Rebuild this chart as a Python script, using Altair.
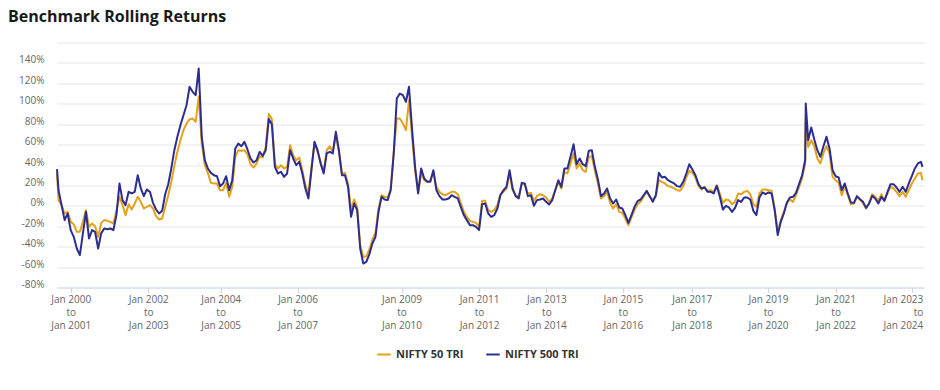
import altair as alt
import pandas as pd

TITLE = "Benchmark Rolling Returns"
SERIES = ["NIFTY 50 TRI", "NIFTY 500 TRI"]
COLORS = ["#E3A21A", "#2C2E8F"]

# Month index (months since Jan 2000) of each reading; regular monthly samples from -4 to 279
month_start, month_end = -4, 279

nifty500 = [
    15.3, 0.7, -14, -7.5,
    -23.8, -30.4, -41.8, -48.3, -27, -5.9, -32, -23.8, -25.5, -41.8,
    -27, -22.2, -22.9, -22.2, -23.8, -9.1, 21.9, 5.6, 0.7, 13.7,
    12.1, 13.7, 30, 17, 9.5, 16, 13.7, 2.9, -3.6, -7.5,
    -4.9, 11.4, 21.2, 36.6, 54.5, 67.6, 79, 88.8, 98.6, 116.6,
    111.7, 108.4, 134.5, 67.6, 44.7, 36.6, 32.3, 30, 29, 19.3,
    21.9, 29, 15.3, 25.1, 56.2, 61, 58.4, 62.7, 55.2, 46.4,
    42.4, 44.7, 52.9, 49, 54.5, 85, 80, 38.2, 31.7, 33.3,
    28.4, 31.7, 54.5, 46.4, 39.8, 43.1, 31.7, 17, 7.2, 34.9,
    62.7, 54.5, 41.5, 31.7, 51.3, 52.9, 51.3, 72.5, 54.5, 30,
    30, 18.6, -10.8, 2.3, -4.2, -41.8, -56.5, -54.9, -47.3, -36.9,
    -30.4, -5.9, 8.8, 6.2, 5.6, 15.3, 51.3, 105.1, 110, 108.4,
    101.9, 116.6, 75.7, 38.2, 12.1, 36.6, 26.8, 23.5, 23.5, 34.9,
    15.3, 9.5, 6.2, 6.2, 7.2, 10.4, 8.8, 7.2, -1, -9.1,
    -14, -18.9, -18.9, -20.6, -23.8, 1.6, 2.3, -7.5, -10.8, -9.1,
    -2.6, 10.4, 15.3, 18.6, 34.9, 17, 9.5, 7.2, 22.5, 21.9,
    9.5, 10.4, 0, 5.6, 6.2, 7.2, 3.9, 1.3, 5.6, 15.3,
    25.1, 18.6, 36.6, 36.6, 48, 60.4, 40.8, 46.4, 40.8, 38.9,
    53.9, 54.5, 38.2, 25.8, 9.5, 12.1, 17, 7.2, 2.3, 6.2,
    -1.6, -2.6, -9.1, -16.7, -9.1, -1, 4.6, 6.2, 10.4, 14.7,
    9.5, 3.9, 10.4, 32.3, 27.8, 28.4, 25.1, 23.5, 21.9, 19.3,
    18.6, 23.5, 31.7, 40.8, 35.6, 30, 21.2, 17, 18, 13.7,
    13.7, 12.1, 19.6, 8.8, -3.6, 0, -1.6, -5.9, -2, 5.6,
    3.9, 8.2, 8.2, 6.2, -4.9, -9.1, 8.2, 13.1, 11.4, 13.1,
    12.1, -4.2, -28.7, -15.7, -7.5, 3.3, 8.2, 8.8, 12.7, 21.2,
    30, 44.7, 64.3, 76.7, 65, 54.5, 48, 58.4, 67.6, 56.2,
    34.9, 29, 27.8, 15.3, 21.9, 12.1, 3.3, 2.9, 9.5, 6.5,
    3.9, -2, 2.3, 9.8, 7.2, 2.3, 8.8, 4.9, 13.4, 21.2,
    21.2, 18, 13.7, 18.6, 13.7, 21.9, 29, 36.6, 41.5, 43.1,
]

nifty50 = [
    5.6, 0.7, -7.5, -5.9,
    -15.7, -18, -25.5, -25.5, -15.7, -4.2, -20.6, -17.3, -20, -30.4,
    -16.7, -14, -14.7, -15.7, -17.3, -4.9, 8.8, 0.7, -9.1, 1.6,
    -3.6, 2.3, 8.8, 3.9, -2.6, -1, 0.7, -2.6, -10.1, -13.4,
    -12.4, -1, 10.1, 23.5, 38.9, 52.9, 64.3, 74.1, 80.6, 84.6,
    85.5, 82.3, 106.8, 61, 39.8, 32.3, 22.5, 21.9, 21.9, 15.3,
    15.3, 22.5, 8.8, 18.6, 48, 54.5, 53.9, 54.5, 50.3, 40.8,
    37.5, 41.5, 48.6, 47.3, 57.8, 90, 85, 40.8, 36.6, 39.8,
    36.6, 38.2, 59.4, 49.6, 44.7, 47.3, 34.9, 20.2, 12.1, 38.2,
    61, 52.9, 43.1, 33.3, 54.5, 58.4, 52.9, 69.2, 52.9, 31.7,
    32.3, 21.9, -4.2, 6.2, -1, -38.5, -50, -49.3, -42.8, -33,
    -26.4, -2.6, 10.4, 8.8, 8.2, 17, 52.9, 85.5, 85.5, 80.6,
    74.1, 103.5, 67.6, 34.9, 12.7, 31.7, 25.1, 23.5, 25.1, 33.3,
    18.6, 13.7, 11.4, 10.4, 12.1, 13.7, 13.7, 11.4, 2.9, -5.9,
    -10.8, -14.7, -15.7, -16.7, -20.6, 4.9, 4.9, -4.2, -5.9, -4.2,
    0.7, 11.4, 13.7, 17, 31.7, 15.3, 10.4, 8.8, 21.2, 21.2,
    12.1, 12.7, 4.9, 9.5, 11.4, 10.4, 8.2, 3.9, 7.2, 15.3,
    23.5, 17, 33.3, 31.7, 41.5, 51.3, 36.6, 41.5, 34.9, 33.3,
    48, 48.6, 34.3, 21.9, 7.2, 9.5, 13.7, 2.9, -2.6, 1.6,
    -5.9, -6.9, -12.4, -18.9, -11.4, -4.2, 1.6, 3.9, 8.8, 13.7,
    8.8, 5.6, 9.5, 25.1, 23.5, 21.9, 19.3, 18.6, 17, 15.3,
    14.7, 19.3, 27.8, 34.3, 32.3, 27.8, 19.3, 16, 18.6, 14.7,
    15.3, 13.7, 20.2, 12.1, 2.9, 6.2, 5.6, 1.6, 3.9, 12.1,
    11.4, 13.7, 14.7, 11.4, 1.6, -1, 12.1, 16, 16, 15.3,
    14.7, -2.6, -25.5, -14, -5.9, 2.3, 6.2, 3.9, 10.4, 18.6,
    26.8, 41.5, 57.8, 64.3, 58.4, 46.4, 41.5, 51.9, 58.4, 51.3,
    28.4, 25.1, 22.5, 10.4, 18.6, 10.4, 1.6, 2.3, 8.8, 6.2,
    2.3, -2.6, 2.9, 11.4, 8.8, 4.9, 11.4, 5.6, 12.1, 18.6,
    17, 13.7, 9.5, 13.7, 8.8, 15.3, 21.9, 26.8, 31.7, 32.3,
]

# Extra off-grid readings: series start, the 2020 spike, series end
extra_months = [-4.5, 241.2, 279.5]
extra_nifty500 = [36, 100.2, 38.2]
extra_nifty50 = [32, 85, 25.1]

# X-axis ticks (month index) and their labels
tick_pos = [0, 25.45, 49.2, 74.45, 108.56, 134.0, 156.1, 181.2, 203.8, 228.8, 251.0, 276.0]
tick_from = ["Jan 2000", "Jan 2002", "Jan 2004", "Jan 2006", "Jan 2009", "Jan 2011",
             "Jan 2013", "Jan 2015", "Jan 2017", "Jan 2019", "Jan 2021", "Jan 2023"]
tick_to = ["Jan 2001", "Jan 2003", "Jan 2005", "Jan 2007", "Jan 2010", "Jan 2012",
           "Jan 2014", "Jan 2016", "Jan 2018", "Jan 2020", "Jan 2022", "Jan 2024"]

y_ticks = [-80, -60, -40, -20, 0, 20, 40, 60, 80, 100, 120, 140, 160]

months = list(range(month_start, month_end + 1))
rows = []
for name, vals, extra in [(SERIES[0], nifty50, extra_nifty50), (SERIES[1], nifty500, extra_nifty500)]:
    pts = list(zip(months, vals)) + list(zip(extra_months, extra))
    pts.sort(key=lambda p: p[0])
    for m, v in pts:
        rows.append({"month": m, "value": v, "series": name})
df = pd.DataFrame(rows)

expr = "''"
for p, a, b in reversed(list(zip(tick_pos, tick_from, tick_to))):
    expr = f"abs(datum.value - {p}) < 0.01 ? ['{a}', 'to', '{b}'] : ({expr})"

FONT = "Open Sans"

chart = alt.Chart(df).mark_line(strokeWidth=2, strokeJoin="round").encode(
    x=alt.X("month:Q", title=None,
            scale=alt.Scale(domain=[-4.5, 280], nice=False, zero=False),
            axis=alt.Axis(values=tick_pos, labelExpr=expr, grid=False,
                          domainColor="#ccd6eb", tickColor="#ccd6eb", tickSize=5,
                          labelFont=FONT, labelFontSize=10, labelColor="#666666",
                          labelLineHeight=13, labelBaseline="top", labelPadding=2,
                          labelOverlap=False,
                          labelAlign={"condition": {"test": "datum.value > 270", "value": "right"}, "value": "center"},
                          labelOffset={"condition": {"test": "datum.value > 270", "value": 11}, "value": 0})),
    y=alt.Y("value:Q", title=None,
            scale=alt.Scale(domain=[-80, 160], nice=False, zero=False),
            axis=alt.Axis(values=y_ticks, labelExpr="datum.value >= 160 ? '' : datum.value + '%'",
                          domain=False, ticks=False, grid=True, gridColor="#e6e6e6", gridWidth=1,
                          labelFont=FONT, labelFontSize=10, labelColor="#666666",
                          labelPadding=13, labelBaseline="alphabetic", labelOverlap=False)),
    color=alt.Color("series:N", title=None,
                    scale=alt.Scale(domain=SERIES, range=COLORS),
                    legend=alt.Legend(orient="none", legendX=319, legendY=304, direction="horizontal",
                                      symbolType="stroke", symbolSize=180, symbolStrokeWidth=2,
                                      labelFont=FONT, labelFontSize=11, labelFontWeight="bold",
                                      labelColor="#333333", labelOffset=4, columnPadding=18,
                                      padding=0)),
).properties(
    width=867, height=245,
    title=alt.TitleParams(TITLE, anchor="start", frame="group", dx=-49, font=FONT, fontSize=16,
                          fontWeight="bold", color="#1a1a1a", offset=10),
    autosize=alt.AutoSizeParams(type="none"),
    padding={"left": 49, "top": 34.5, "right": 8, "bottom": 94.5},
).configure_view(stroke=None)

chart.save("out.html", embed_options={"renderer": "svg", "actions": False})
